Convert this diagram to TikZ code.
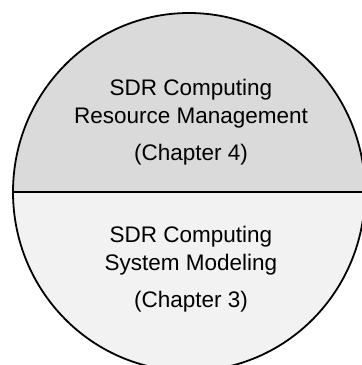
\documentclass[tikz,border=0pt]{standalone}
\usepackage{fontspec}
\setmainfont{Liberation Sans}
\definecolor{topgray}{HTML}{DADADA}
\definecolor{botgray}{HTML}{F2F2F2}
\begin{document}
\begin{tikzpicture}[x=1pt,y=-1pt,
  lbl/.style={align=center,font=\fontsize{22.5}{28}\selectfont,inner sep=0pt,anchor=base}]
\useasboundingbox (0,0) rectangle (362,365);
\clip (0,0) rectangle (362,365);
\coordinate (c) at (189,192);
\begin{scope}
  \clip (0,0) rectangle (370,192);
  \fill[topgray] (c) ellipse[x radius=176,y radius=179];
\end{scope}
\begin{scope}
  \clip (0,192) rectangle (370,380);
  \fill[botgray] (c) ellipse[x radius=176,y radius=179];
\end{scope}
\draw[line width=1.8pt] (c) ellipse[x radius=176,y radius=179];
\coordinate (l) at (13,192);
\coordinate (r) at (365,192);
\draw[line width=2.6pt] (l) -- (r);
\node[lbl] (t1) at (191,95) {SDR Computing};
\node[lbl] (t2) at (191,123) {Resource Management};
\node[lbl] (t3) at (191,160) {(Chapter 4)};
\node[lbl] (b1) at (191,242) {SDR Computing};
\node[lbl] (b2) at (191,270) {System Modeling};
\node[lbl] (b3) at (191,307) {(Chapter 3)};
\end{tikzpicture}
\end{document}
